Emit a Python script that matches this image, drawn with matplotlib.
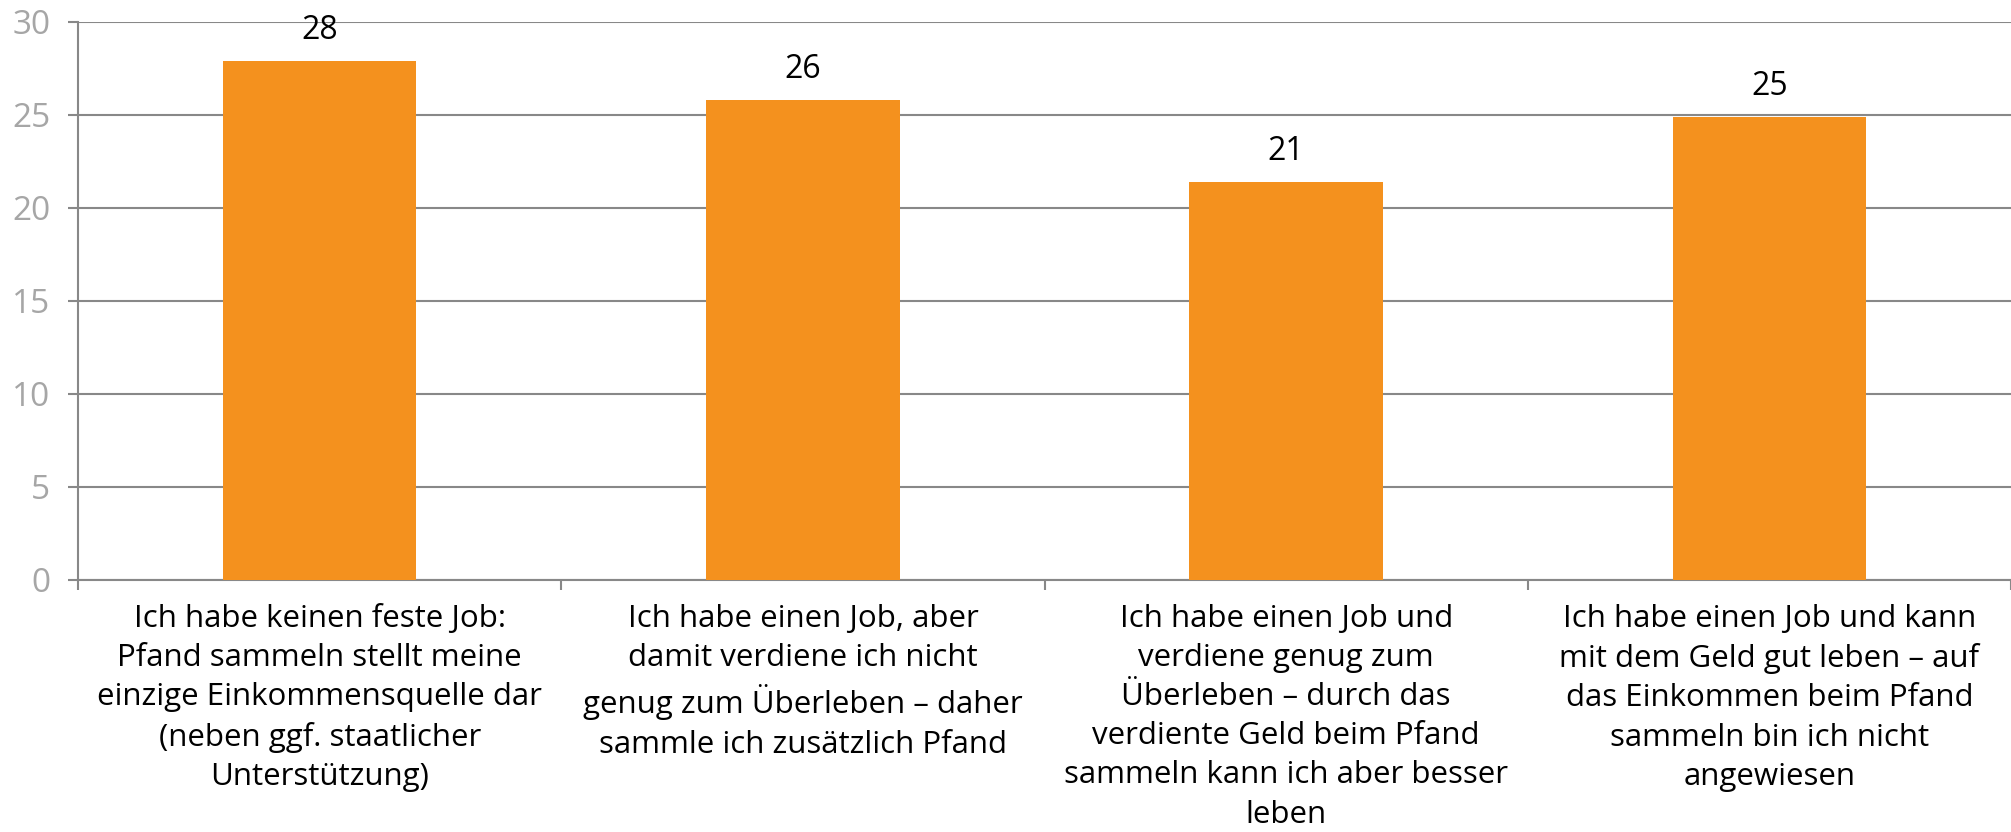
import numpy as np
import matplotlib.pyplot as plt
from matplotlib.ticker import FixedLocator

# data
categories = [
    'Ich habe keinen feste Job:\nPfand sammeln stellt meine\neinzige Einkommensquelle dar\n(neben ggf. staatlicher\nUnterstützung)',
    'Ich habe einen Job, aber\ndamit verdiene ich nicht\ngenug zum Überleben – daher\nsammle ich zusätzlich Pfand',
    'Ich habe einen Job und\nverdiene genug zum\nÜberleben – durch das\nverdiente Geld beim Pfand\nsammeln kann ich aber besser\nleben',
    'Ich habe einen Job und kann\nmit dem Geld gut leben – auf\ndas Einkommen beim Pfand\nsammeln bin ich nicht\nangewiesen',
]
values = [27.9, 25.8, 21.4, 24.9]
yticks = [0, 5, 10, 15, 20, 25, 30]

plt.rcParams['font.family'] = ['Open Sans', 'DejaVu Sans']

fig = plt.figure(figsize=(20.11, 8.32), dpi=100)
ax = fig.add_axes([0.0388, 0.3029, 0.9612, 0.6707])

x = np.arange(len(categories))
bars = ax.bar(x, values, width=0.4, color='#F4911E', zorder=3)
ax.bar_label(bars, fmt='{:.0f}', padding=10, fontsize=23, color='black')

ax.set_xlim(-0.5, len(categories) - 0.5)
ax.set_ylim(0, 30)
ax.set_yticks(yticks)
ax.yaxis.grid(True, color='#888888', linewidth=1.5, zorder=0)

ax.set_xticks(x)
ax.set_xticklabels(categories, fontsize=22.5, color='black', linespacing=1.4)
ax.xaxis.set_minor_locator(FixedLocator(np.arange(-0.5, len(categories), 1.0)))
ax.tick_params(axis='x', which='major', length=0, pad=17)
ax.tick_params(axis='x', which='minor', length=7, width=1.5, color='#888888')
ax.tick_params(axis='y', length=7, width=1.5, color='#888888', pad=13,
               labelsize=24, labelcolor='#a6a6a6')

for s in ['top', 'right']:
    ax.spines[s].set_visible(False)
for s in ['left', 'bottom']:
    ax.spines[s].set_color('#888888')
    ax.spines[s].set_linewidth(1.5)

plt.savefig('out.png', dpi=100)
